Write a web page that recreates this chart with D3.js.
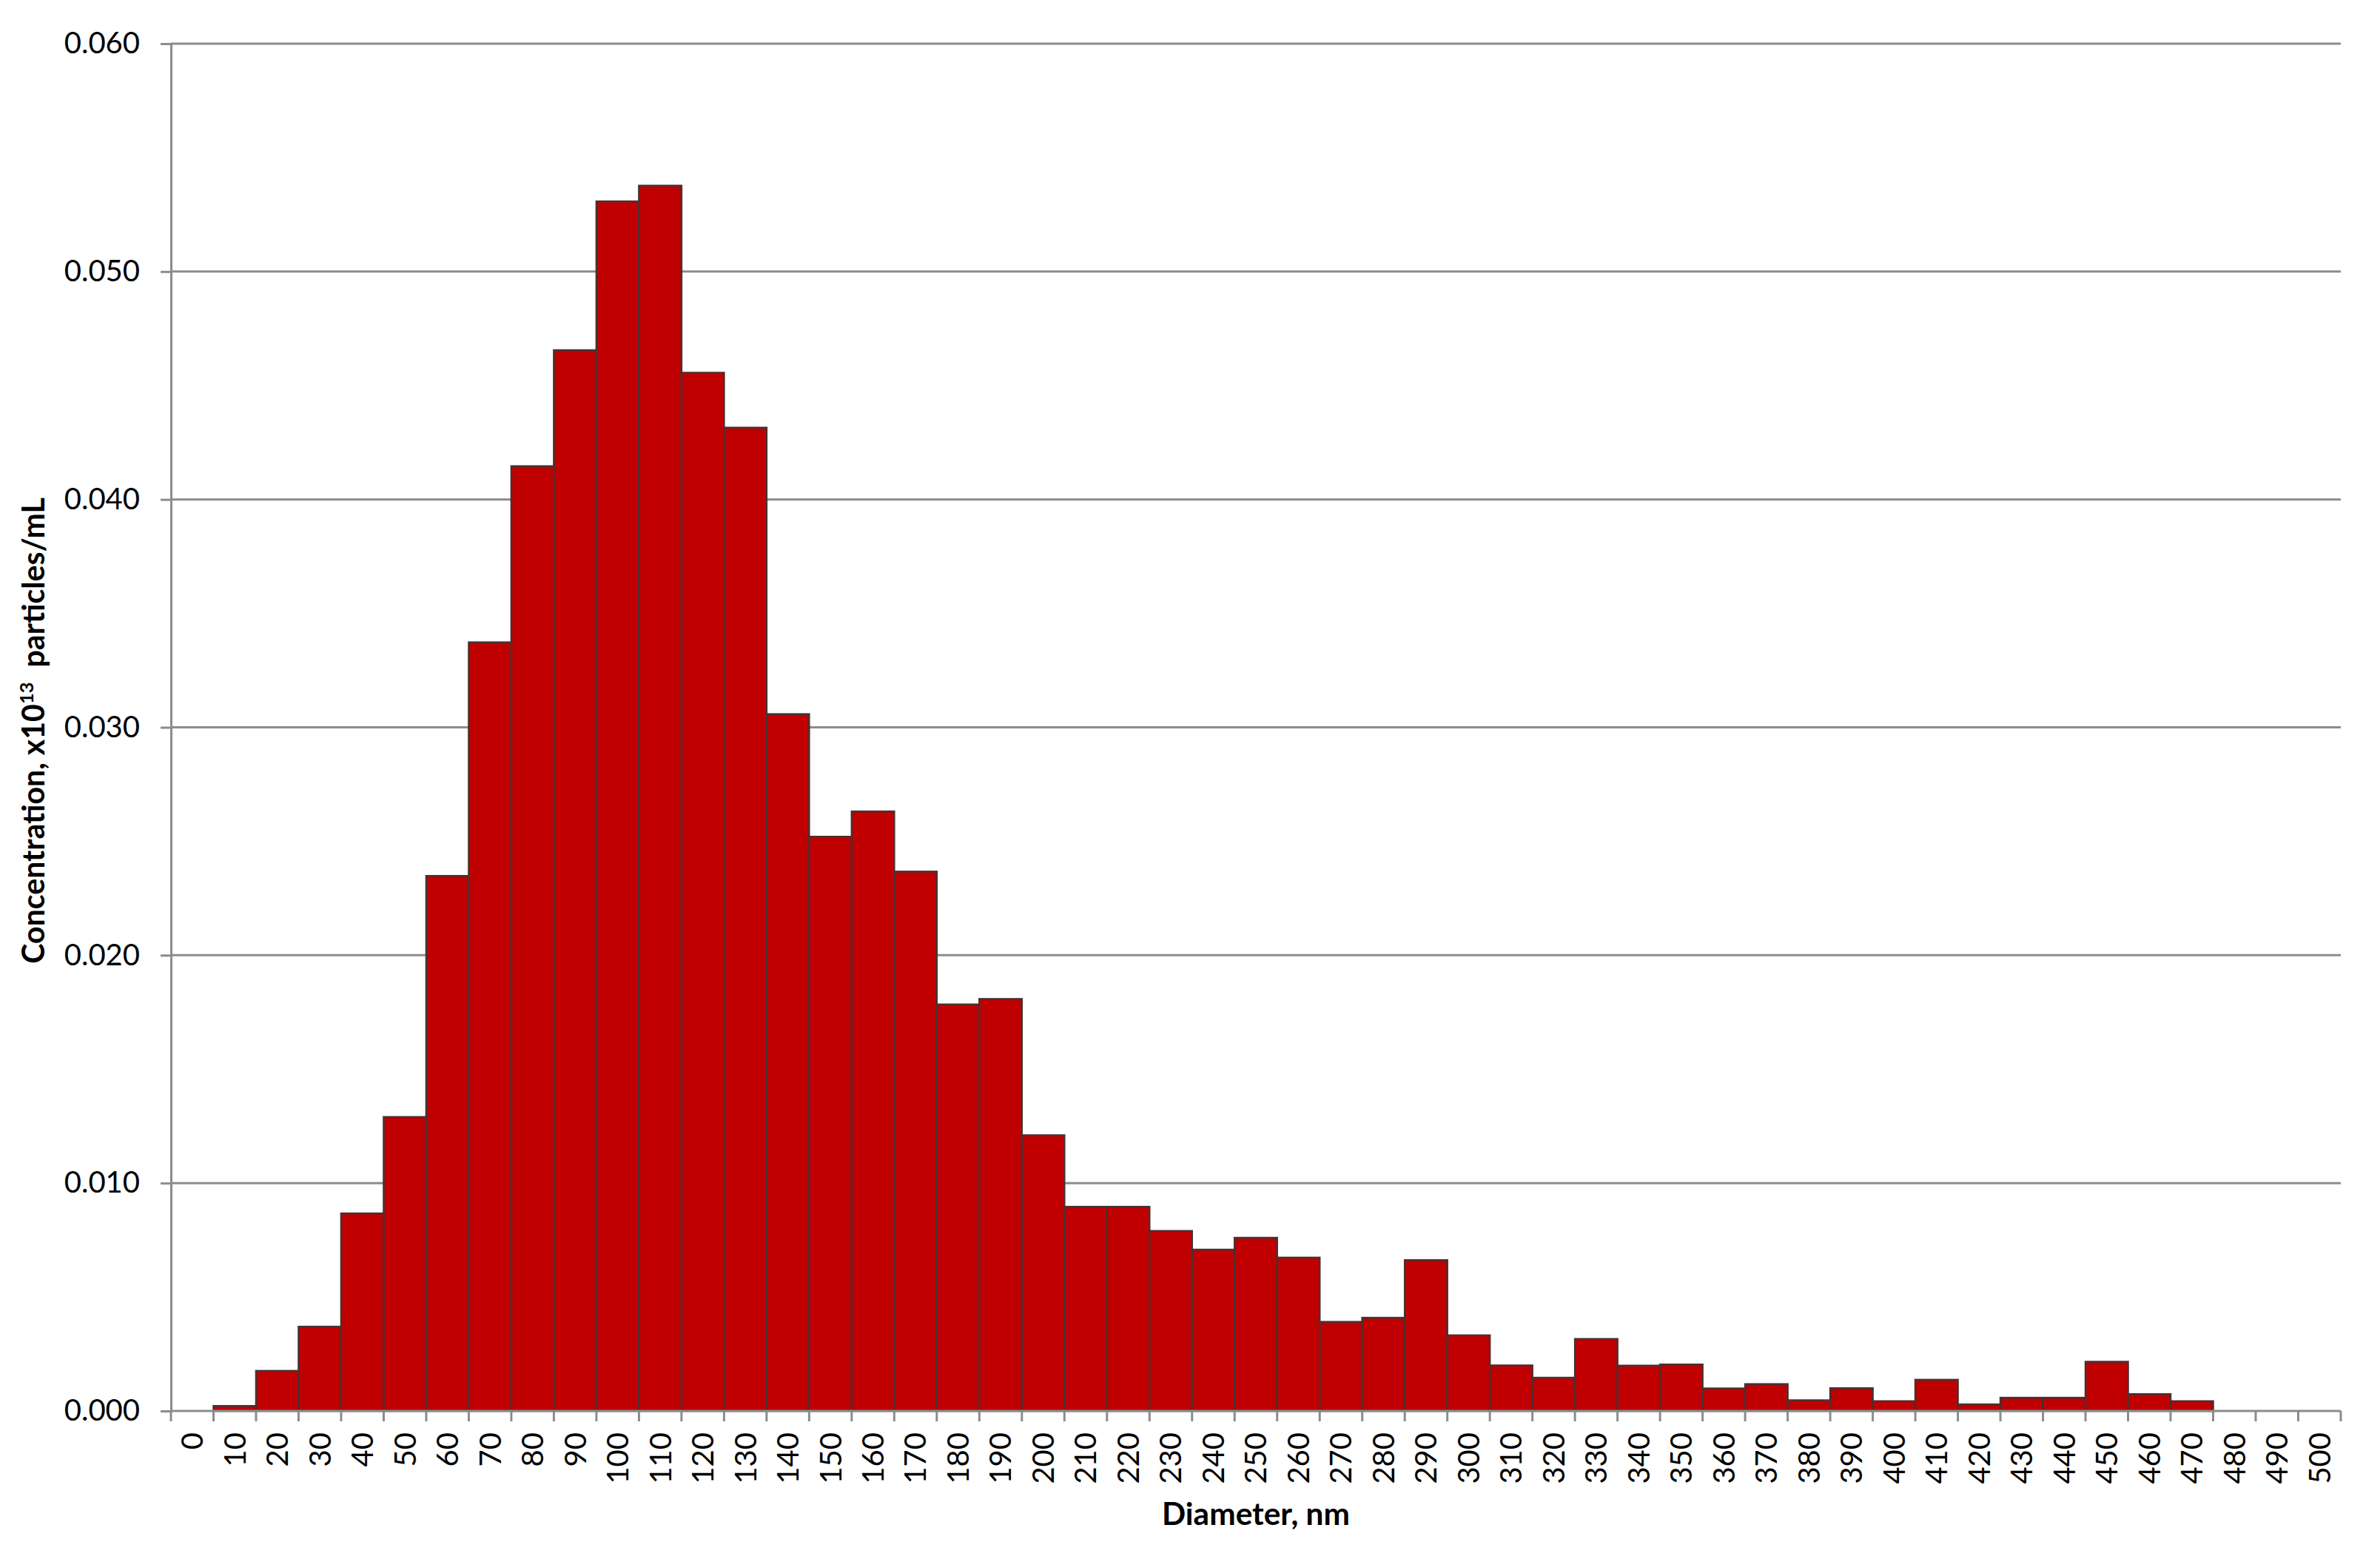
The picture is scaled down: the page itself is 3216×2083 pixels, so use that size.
<!DOCTYPE html>
<html>
<head>
<meta charset="utf-8">
<script src="https://cdn.jsdelivr.net/npm/d3@7"></script>
<style>
  html, body { margin: 0; padding: 0; background: #fff; }
  svg { display: block; }
  text { font-family: Lato, "Open Sans", sans-serif; fill: #000; }
</style>
</head>
<body>
<svg id="chart" width="3216" height="2083"></svg>
<script>
// ---- Data ----
const categories = ["0","10","20","30","40","50","60","70","80","90","100","110","120","130","140","150","160","170","180","190","200","210","220","230","240","250","260","270","280","290","300","310","320","330","340","350","360","370","380","390","400","410","420","430","440","450","460","470","480","490","500"];
const values = [null,0.00022,0.00176,0.0037,0.00867,0.0129,0.02348,0.03373,0.04146,0.04655,0.05308,0.05377,0.04556,0.04315,0.03058,0.0252,0.02631,0.02367,0.01784,0.01808,0.0121,0.00896,0.00896,0.0079,0.00708,0.0076,0.00673,0.00391,0.00409,0.00662,0.00332,0.002,0.00146,0.00316,0.00199,0.00204,0.00099,0.00118,0.00047,0.001,0.00043,0.00137,0.00029,0.00058,0.00058,0.00216,0.00074,0.00043,null,null,null];
const yTicks = [0, 0.01, 0.02, 0.03, 0.04, 0.05, 0.06];
const xTitle = "Diameter, nm";
const yTitleParts = ["Concentration, x10", "13", "  particles/mL"];

// ---- Layout ----
const m = { left: 231, right: 3163, top: 59, bottom: 1906 };
const svg = d3.select("#chart");

const x = d3.scaleBand().domain(categories).range([m.left, m.right]).paddingInner(0).paddingOuter(0);
const y = d3.scaleLinear().domain([0, 0.06]).range([m.bottom, m.top]);

const gridColor = "#8c8c8c";

// gridlines
svg.append("g").selectAll("line").data(yTicks.filter(d => d > 0)).join("line")
  .attr("x1", m.left).attr("x2", m.right)
  .attr("y1", d => y(d)).attr("y2", d => y(d))
  .attr("stroke", gridColor).attr("stroke-width", 3);

// bars
const data = categories.map((c, i) => ({ c, v: values[i] })).filter(d => d.v != null);
svg.append("g").selectAll("rect").data(data).join("rect")
  .attr("x", d => x(d.c))
  .attr("width", x.bandwidth())
  .attr("y", d => y(d.v))
  .attr("height", d => y(0) - y(d.v))
  .attr("fill", "#C00000")
  .attr("stroke", "#4a3030")
  .attr("stroke-width", 2.5);

// y axis
const gy = svg.append("g").attr("transform", `translate(${m.left},0)`)
  .call(d3.axisLeft(y).tickValues(yTicks).tickFormat(d3.format(".3f")).tickSize(14).tickPadding(28));
gy.select(".domain").attr("stroke", gridColor).attr("stroke-width", 3);
gy.selectAll(".tick line").attr("stroke", gridColor).attr("stroke-width", 3);
gy.selectAll(".tick text").style("font-family", "Lato").style("font-size", "40px").attr("fill", "#000");

// x axis
const gx = svg.append("g").attr("transform", `translate(0,${m.bottom})`)
  .call(d3.axisBottom(x).tickSize(0).tickPadding(0));
gx.select(".domain").remove();
gx.selectAll(".tick text")
  .attr("transform", "rotate(-90)")
  .attr("text-anchor", "end")
  .attr("x", -29).attr("y", 0).attr("dy", "0.36em")
  .style("font-family", "Lato").style("font-size", "40px").attr("fill", "#000");
// boundary tick marks
const bounds = categories.map(c => x(c)).concat([x(categories[categories.length - 1]) + x.bandwidth()]);
gx.append("g").selectAll("line").data(bounds).join("line")
  .attr("x1", d => d).attr("x2", d => d).attr("y1", 0).attr("y2", 14)
  .attr("stroke", gridColor).attr("stroke-width", 3);
gx.append("line").attr("x1", m.left).attr("x2", m.right).attr("y1", 0).attr("y2", 0)
  .attr("stroke", gridColor).attr("stroke-width", 3);

// x title
const xt = svg.append("text")
  .attr("x", (m.left + m.right) / 2).attr("y", 2049)
  .attr("text-anchor", "middle").attr("dominant-baseline", "middle")
  .style("font-weight", "bold").style("font-size", "40px")
  .text(xTitle);
{
  const len = xt.node().getComputedTextLength();
  xt.style("font-size", (40 * 254 / len).toFixed(1) + "px");
}

// y title
const yt = svg.append("text")
  .attr("transform", `translate(49,987) rotate(-90)`)
  .attr("text-anchor", "middle").attr("dominant-baseline", "middle")
  .style("font-weight", "bold").style("font-size", "40px")
  .attr("xml:space", "preserve").style("white-space", "pre");
yt.append("tspan").text(yTitleParts[0]);
yt.append("tspan").attr("dy", "-0.45em").style("font-size", "0.62em").text(yTitleParts[1]);
yt.append("tspan").attr("dy", "0.28em").text(yTitleParts[2]);
{
  const len = yt.node().getComputedTextLength();
  yt.style("font-size", (40 * 629 / len).toFixed(1) + "px");
}
</script>
</body>
</html>
